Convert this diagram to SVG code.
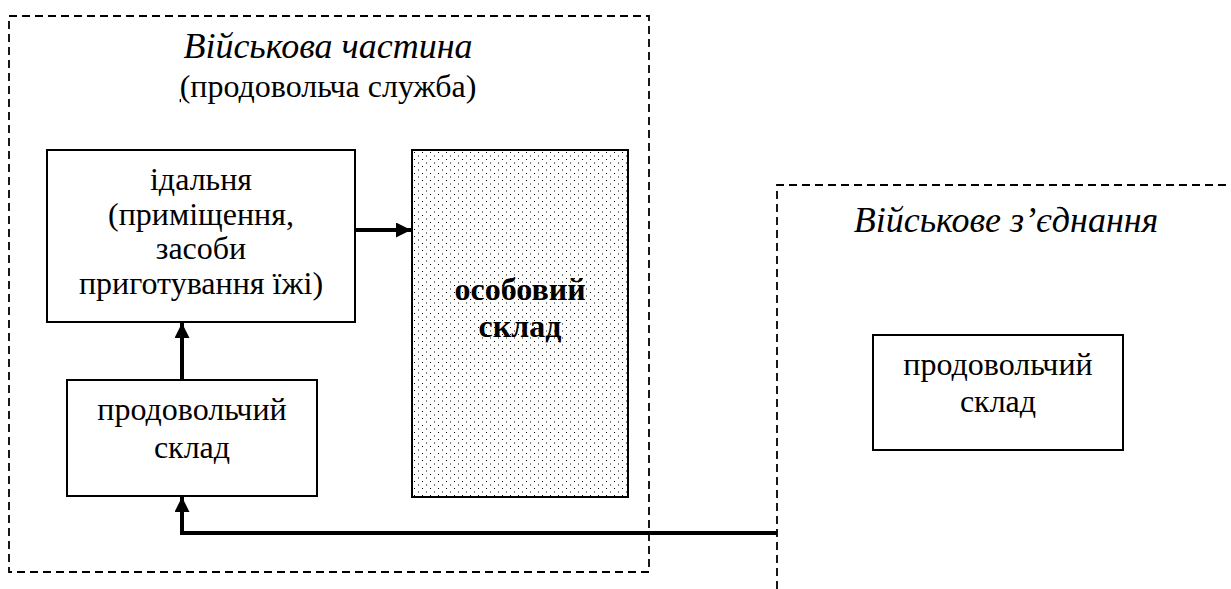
<svg xmlns="http://www.w3.org/2000/svg" width="1231" height="589" viewBox="0 0 1231 589">
<style>
text{font-family:"Liberation Serif","Times New Roman",serif;fill:#000;text-anchor:middle}
.t{font-size:32px}
.ti{font-size:36px;font-style:italic}
.b{font-size:32px;font-weight:bold}
.box{fill:#fff;stroke:#000;stroke-width:2}
.dash{fill:none;stroke:#000;stroke-width:1.8;stroke-dasharray:8 5}
.con{fill:none;stroke:#000;stroke-width:4}
</style>
<defs>
<pattern id="dots" x="412" y="150" width="8" height="7" patternUnits="userSpaceOnUse">
<rect x="2" y="2" width="1" height="1" fill="#000"/>
<rect x="6" y="5.5" width="1" height="1" fill="#000"/>
</pattern>
<marker id="ah" markerUnits="userSpaceOnUse" markerWidth="16" markerHeight="15" refX="15" refY="7.5" orient="auto">
<path d="M0,0 L15,7.5 L0,15 z" fill="#000"/>
</marker>
</defs>
<rect width="1231" height="589" fill="#fff"/>
<g id="unit">
<rect class="dash" x="9" y="16" width="640" height="556"/>
<text class="ti" x="328" y="58">Військова частина</text>
<text class="t" x="328" y="97"><tspan text-decoration="underline">(</tspan>продовольча служба)</text>
</g>
<g id="formation">
<path class="dash" d="M777,589 V185 H1231"/>
<text class="ti" x="1006" y="232">Військове з’єднання</text>
</g>
<g id="dining">
<rect class="box" x="47" y="150" width="308" height="172"/>
<text class="t" x="201" y="190">ідальня</text>
<text class="t" x="201" y="225">(приміщення,</text>
<text class="t" x="201" y="259">засоби</text>
<text class="t" x="201" y="294">приготування їжі)</text>
</g>
<g id="personnel">
<rect x="412" y="150" width="216" height="347" fill="#fff"/>
<rect x="412" y="150" width="216" height="347" fill="url(#dots)" stroke="#000" stroke-width="2"/>
<text class="b" x="520" y="300">особовий</text>
<text class="b" x="520" y="337">склад</text>
</g>
<g id="unit-store">
<rect class="box" x="67" y="380" width="250" height="116"/>
<text class="t" x="192" y="420">продовольчий</text>
<text class="t" x="192" y="458">склад</text>
</g>
<g id="formation-store">
<rect class="box" x="873" y="335" width="250" height="115"/>
<text class="t" x="998" y="375">продовольчий</text>
<text class="t" x="998" y="412">склад</text>
</g>
<g id="connectors">
<path class="con" d="M355,230 H411" marker-end="url(#ah)"/>
<path class="con" d="M182,380 V323" marker-end="url(#ah)"/>
<path class="con" d="M777,533 H182 V497" marker-end="url(#ah)"/>
</g>
</svg>
